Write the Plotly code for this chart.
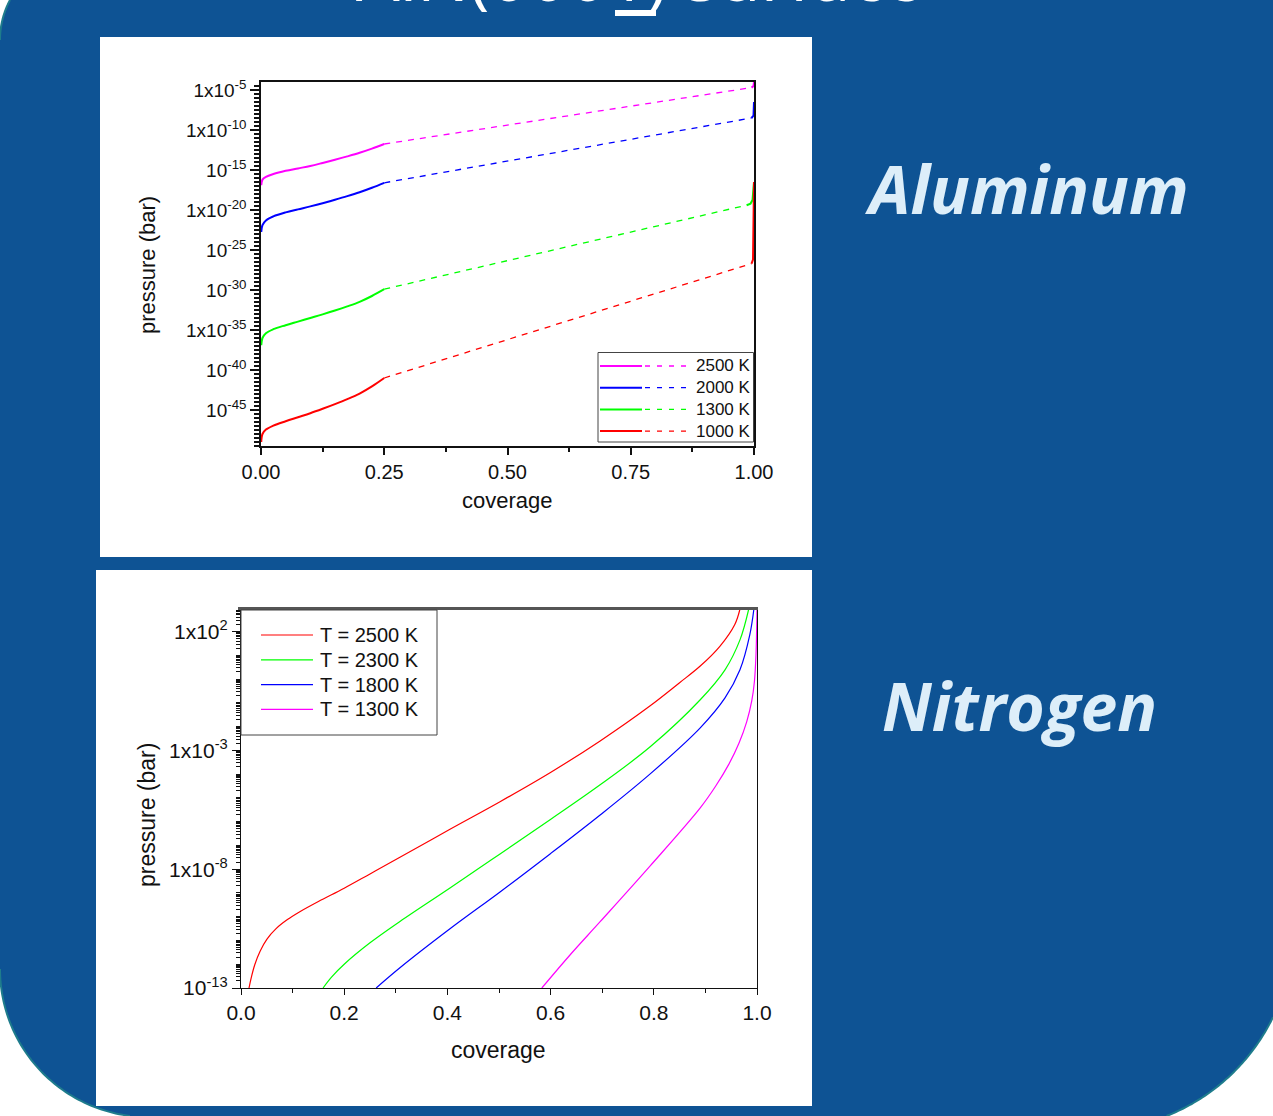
import numpy as np
import plotly.graph_objects as go

W, H = 1273, 1116


def px(x):
    return x / W


def py(y):
    return 1 - y / H


# ---------------- Aluminum adsorption isotherms (log10 p in bar) ----------------
al_labels = ["2500 K", "2000 K", "1300 K", "1000 K"]
al_colors = ["#FF00FF", "#0000FF", "#00FF00", "#FF0000"]

# low-coverage branch (solid)
al_cov_low = [0.0005, 0.003, 0.01, 0.025, 0.05, 0.075, 0.1, 0.125, 0.15, 0.175, 0.2, 0.225, 0.25]
al_low_2500 = [-16.9, -16.2, -15.85, -15.5, -15.1, -14.8, -14.5, -14.12, -13.72, -13.3, -12.85, -12.33, -11.75]
al_low_2000 = [-22.75, -21.9, -21.3, -20.8, -20.3, -19.92, -19.55, -19.15, -18.72, -18.27, -17.78, -17.22, -16.6]
al_low_1300 = [-36.9, -36.0, -35.4, -34.9, -34.4, -33.95, -33.5, -33.05, -32.57, -32.05, -31.48, -30.75, -29.9]
al_low_1000 = [-49.0, -48.0, -47.45, -46.95, -46.4, -45.9, -45.4, -44.85, -44.27, -43.65, -42.95, -42.05, -41.0]

# intermediate branch (dashed)
al_mid_cov_2500 = [0.25, 0.995]
al_mid_2500 = [-11.75, -4.7]
al_mid_cov_2000 = [0.25, 0.995]
al_mid_2000 = [-16.6, -8.5]
al_mid_cov_1300 = [0.25, 0.985]
al_mid_1300 = [-29.9, -19.4]
al_mid_cov_1000 = [0.25, 0.995]
al_mid_1000 = [-41.0, -26.7]

# near-saturation branch (solid)
al_high_cov_2500 = [0.995, 0.999, 1.0]
al_high_2500 = [-4.7, -4.5, -4.0]
al_high_cov_2000 = [0.995, 0.999, 1.0]
al_high_2000 = [-8.5, -8.2, -6.5]
al_high_cov_1300 = [0.985, 0.993, 0.997, 1.0]
al_high_1300 = [-19.4, -19.2, -18.75, -16.5]
al_high_cov_1000 = [0.995, 0.998, 1.0]
al_high_1000 = [-26.7, -26.2, -16.5]

al_ticks = [-5, -10, -15, -20, -25, -30, -35, -40, -45]
al_ticktext = ["1x10<sup>-5</sup>", "1x10<sup>-10</sup>", "10<sup>-15</sup>",
               "1x10<sup>-20</sup>", "10<sup>-25</sup>", "10<sup>-30</sup>",
               "1x10<sup>-35</sup>", "10<sup>-40</sup>", "10<sup>-45</sup>"]

# ---------------- Nitrogen adsorption isotherms ----------------
n2_labels = ["T = 2500 K", "T = 2300 K", "T = 1800 K", "T = 1300 K"]
n2_colors = ["#FF0000", "#00FF00", "#0000FF", "#FF00FF"]

n2_cov_2500 = [0.0155, 0.02, 0.027, 0.037, 0.05, 0.068, 0.09, 0.114, 0.15, 0.2, 0.25,
               0.308, 0.405, 0.502, 0.599, 0.696, 0.793, 0.85, 0.89, 0.928, 0.957, 0.967]
n2_lgp_2500 = [-13.0, -12.55, -12.0, -11.45, -10.95, -10.5, -10.12, -9.79, -9.36, -8.8, -8.2,
               -7.5, -6.32, -5.16, -3.94, -2.6, -1.12, -0.15, 0.55, 1.38, 2.3, 2.95]

n2_cov_2300 = [0.159, 0.175, 0.2, 0.25, 0.308, 0.405, 0.502, 0.599, 0.696, 0.793,
               0.890, 0.938, 0.967, 0.984]
n2_lgp_2300 = [-13.0, -12.55, -12.0, -11.1, -10.2, -8.79, -7.36, -5.92, -4.45, -2.85,
               -0.87, 0.39, 1.65, 2.95]

n2_cov_1800 = [0.262, 0.308, 0.405, 0.502, 0.599, 0.696, 0.793, 0.890, 0.938,
               0.967, 0.986, 0.994]
n2_lgp_1800 = [-13.0, -12.15, -10.51, -8.96, -7.36, -5.72, -3.99, -2.05, -0.79,
               0.39, 1.86, 2.95]

n2_cov_1300 = [0.583, 0.638, 0.696, 0.793, 0.890, 0.92, 0.945, 0.965, 0.98, 0.99,
               0.995, 0.998, 1.0]
n2_lgp_1300 = [-13.0, -11.6, -10.21, -7.86, -5.42, -4.5, -3.6, -2.7, -1.8, -0.9,
               -0.1, 1.0, 2.95]

n2_ticks = [2, -3, -8, -13]
n2_ticktext = ["1x10<sup>2</sup>", "1x10<sup>-3</sup>", "1x10<sup>-8</sup>",
               "10<sup>-13</sup>"]

BG_BLUE = "#0E5394"
EDGE = "#1E7C8C"
LABEL_BLUE = "#DDEEF9"
FONT = "Liberation Sans"

fig = go.Figure()


def pw(v):
    return [10.0 ** e for e in v]


al_series = [
    (al_low_2500, al_mid_cov_2500, al_mid_2500, al_high_cov_2500, al_high_2500),
    (al_low_2000, al_mid_cov_2000, al_mid_2000, al_high_cov_2000, al_high_2000),
    (al_low_1300, al_mid_cov_1300, al_mid_1300, al_high_cov_1300, al_high_1300),
    (al_low_1000, al_mid_cov_1000, al_mid_1000, al_high_cov_1000, al_high_1000),
]
for (low, mc, mv, hc, hv), col, lab in zip(al_series, al_colors, al_labels):
    fig.add_trace(go.Scatter(x=al_cov_low, y=pw(low), mode="lines", line=dict(color=col, width=2),
                             line_shape="spline", showlegend=False, xaxis="x", yaxis="y", name=lab))
    fig.add_trace(go.Scatter(x=mc, y=pw(mv), mode="lines", line=dict(color=col, width=1.3, dash="6px,6px"),
                             showlegend=False, xaxis="x", yaxis="y", name=lab))
    fig.add_trace(go.Scatter(x=hc, y=pw(hv), mode="lines", line=dict(color=col, width=2),
                             showlegend=False, xaxis="x", yaxis="y", name=lab))

n2_series = [(n2_cov_2500, n2_lgp_2500), (n2_cov_2300, n2_lgp_2300),
             (n2_cov_1800, n2_lgp_1800), (n2_cov_1300, n2_lgp_1300)]
for (c, v), col, lab in zip(n2_series, n2_colors, n2_labels):
    fig.add_trace(go.Scatter(x=c, y=pw(v), mode="lines", line=dict(color=col, width=1.2),
                             line_shape="spline", showlegend=False, xaxis="x2", yaxis="y2", name=lab))


# ---------------- background geometry ----------------
def arc(cx, cy, r, a0, a1, n=60):
    t = np.radians(np.linspace(a0, a1, n))
    return list(zip(cx + r * np.cos(t), cy + r * np.sin(t)))


br = arc(1093, 930, 200, 25.84, 68.4)
bl = arc(148, 969, 148, 97, 180)
tl = arc(85, 40, 85, 180, 208.07)
outline = [(1273, 0)] + br + bl + tl


def to_path(pts, close=True):
    s = "M " + " L ".join(f"{px(x):.5f},{py(y):.5f}" for x, y in pts)
    return s + (" Z" if close else "")


shapes = [
    dict(type="path", xref="paper", yref="paper", path=to_path(outline),
         fillcolor=BG_BLUE, line=dict(width=0), layer="below"),
    dict(type="path", xref="paper", yref="paper", path=to_path(br, close=False),
         line=dict(color=EDGE, width=2), layer="below"),
    dict(type="path", xref="paper", yref="paper", path=to_path(bl, close=False),
         line=dict(color=EDGE, width=2), layer="below"),
    dict(type="path", xref="paper", yref="paper", path=to_path(tl, close=False),
         line=dict(color=EDGE, width=2), layer="below"),
    # white chart panels
    dict(type="rect", xref="paper", yref="paper", x0=px(100), x1=px(812), y0=py(557), y1=py(37),
         fillcolor="white", line=dict(width=0), layer="below"),
    dict(type="rect", xref="paper", yref="paper", x0=px(96), x1=px(812), y0=py(1106), y1=py(570),
         fillcolor="white", line=dict(width=0), layer="below"),
    # underline in the heading
    dict(type="rect", xref="paper", yref="paper", x0=px(615), x1=px(656), y0=py(16), y1=py(10),
         fillcolor="white", line=dict(width=0), layer="above"),
    # heavy top frame of the nitrogen chart
    dict(type="line", xref="paper", yref="paper", x0=px(238), x1=px(758), y0=py(608.5), y1=py(608.5),
         line=dict(color="#555555", width=3), layer="above"),
]

annotations = []


def label(x, y, text, size, color="#111111", family=FONT, xanchor="center", angle=0):
    return dict(x=px(x), y=py(y), xref="paper", yref="paper", text=text, showarrow=False,
                xanchor=xanchor, yanchor="middle", textangle=angle,
                font=dict(family=family, size=size, color=color))


# aluminum legend box with solid + dashed samples
shapes.append(dict(type="rect", xref="paper", yref="paper", x0=px(598), x1=px(753.5),
                   y0=py(442), y1=py(352.5), fillcolor="white",
                   line=dict(color="#444444", width=1), layer="above"))
for i, (col, lab) in enumerate(zip(al_colors, al_labels)):
    yy = 366 + i * 21.7
    shapes.append(dict(type="line", xref="paper", yref="paper", x0=px(600), x1=px(642),
                       y0=py(yy), y1=py(yy), line=dict(color=col, width=2), layer="above"))
    shapes.append(dict(type="line", xref="paper", yref="paper", x0=px(645), x1=px(689),
                       y0=py(yy), y1=py(yy), line=dict(color=col, width=1.3, dash="5px,7px"),
                       layer="above"))
    annotations.append(label(694, yy, lab, 17, xanchor="left"))

# nitrogen legend box
shapes.append(dict(type="rect", xref="paper", yref="paper", x0=px(241), x1=px(437),
                   y0=py(735), y1=py(610), fillcolor="white",
                   line=dict(color="#444444", width=1), layer="above"))
for i, (col, lab) in enumerate(zip(n2_colors, n2_labels)):
    yy = 635 + i * 24.8
    shapes.append(dict(type="line", xref="paper", yref="paper", x0=px(261), x1=px(313),
                       y0=py(yy), y1=py(yy), line=dict(color=col, width=1.2), layer="above"))
    annotations.append(label(318, yy, lab, 20, xanchor="left"))

annotations += [
    label(148, 265, "pressure (bar)", 22, angle=-90),
    label(507, 500, "coverage", 22),
    label(147, 815, "pressure (bar)", 23, angle=-90),
    label(498, 1050, "coverage", 23),
    label(1027, 188, "<b><i>Aluminum</i></b>", 66, color=LABEL_BLUE, family="Open Sans"),
    label(1020, 705, "<b><i>Nitrogen</i></b>", 66, color=LABEL_BLUE, family="Open Sans"),
    # heading, mostly above the visible page
    label(639, -26, "AlN(0001) surface", 69, color="white", family="Open Sans"),
]

axis_common = dict(showgrid=False, zeroline=False, showline=True, linecolor="#111111",
                   mirror=True, ticks="outside", tickcolor="#111111", automargin=False)

al_minor = [10.0 ** e for e in np.arange(-49.5, -4.0, 0.5)]
n2_minor = [k * 10.0 ** e for e in range(-13, 3) for k in range(1, 10)]

fig.update_layout(
    width=W, height=H, margin=dict(l=0, r=0, t=0, b=0, pad=0, autoexpand=False),
    paper_bgcolor="white", plot_bgcolor="rgba(0,0,0,0)",
    showlegend=False, shapes=shapes, annotations=annotations,
    xaxis=dict(domain=[px(261), px(754)], range=[0, 1], anchor="y",
               tickvals=[0, 0.25, 0.5, 0.75, 1.0], ticktext=["0.00", "0.25", "0.50", "0.75", "1.00"],
               ticklen=7, tickwidth=1.5, linewidth=1.5,
               minor=dict(tickvals=[0.125, 0.375, 0.625, 0.875], ticklen=4, tickwidth=1.5,
                          tickcolor="#111111"),
               tickfont=dict(family=FONT, size=20, color="#111111"), **axis_common),
    yaxis=dict(domain=[py(446), py(82)], type="log", range=[-49.5, -4], anchor="x",
               tickvals=[10.0 ** e for e in al_ticks], ticktext=al_ticktext,
               ticklen=9, tickwidth=2, linewidth=1.5,
               minor=dict(tickvals=al_minor, ticklen=5, tickwidth=2, tickcolor="#111111"),
               tickfont=dict(family=FONT, size=19, color="#111111"), **axis_common),
    xaxis2=dict(domain=[px(241), px(757)], range=[0, 1], anchor="y2",
                tickvals=[0, 0.2, 0.4, 0.6, 0.8, 1.0], ticktext=["0.0", "0.2", "0.4", "0.6", "0.8", "1.0"],
                ticklen=6, tickwidth=1.2, linewidth=1.2,
                minor=dict(tickvals=[0.1, 0.3, 0.5, 0.7, 0.9], ticklen=4, tickwidth=1.2,
                           tickcolor="#111111"),
                tickfont=dict(family=FONT, size=21, color="#111111"), **axis_common),
    yaxis2=dict(domain=[py(988), py(609)], type="log", range=[-13, 2.95], anchor="x2",
                tickvals=[10.0 ** e for e in n2_ticks], ticktext=n2_ticktext,
                ticklen=8, tickwidth=1.2, linewidth=1.2,
                minor=dict(tickvals=n2_minor, ticklen=4, tickwidth=1, tickcolor="#111111"),
                tickfont=dict(family=FONT, size=21, color="#111111"), **axis_common),
)

fig.write_html("out.html")
